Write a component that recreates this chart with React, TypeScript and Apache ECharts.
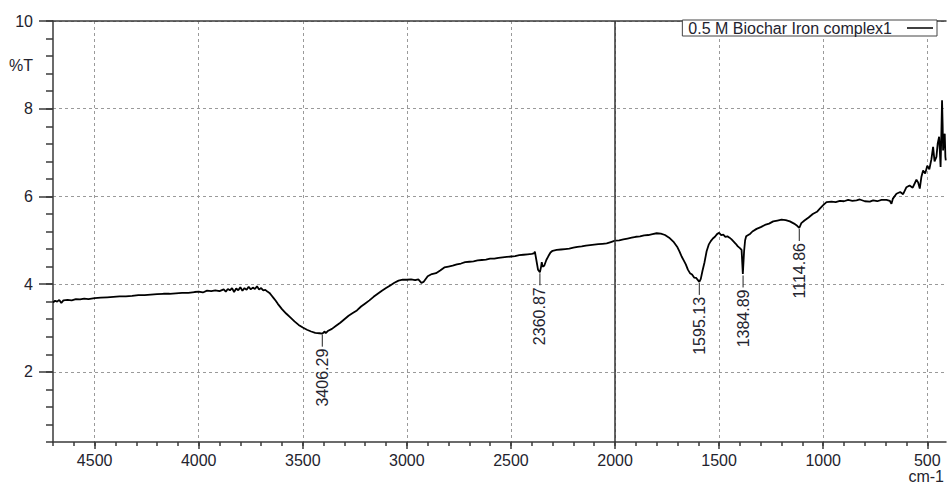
import React, { useEffect, useRef } from 'react';
import * as echarts from 'echarts';

const seriesName = '0.5 M Biochar Iron complex1';

const wavenumbers = [
  4700, 4690, 4680, 4670, 4660, 4650, 4630, 4610, 4590, 4570, 4550, 4530, 4500, 4470, 4440, 4410,
  4380, 4350, 4320, 4290, 4260, 4230, 4200, 4170, 4140, 4110, 4080, 4050, 4020, 4000, 3980, 3960,
  3940, 3920, 3900, 3880, 3870, 3860, 3850, 3840, 3830, 3820, 3810, 3800, 3790, 3780, 3770, 3760,
  3750, 3740, 3730, 3720, 3710, 3700, 3690, 3680, 3670, 3660, 3650, 3640, 3630, 3620, 3600, 3580,
  3560, 3540, 3520, 3500, 3480, 3460, 3440, 3420, 3406, 3395, 3390, 3380, 3360, 3340, 3320, 3300,
  3280, 3260, 3240, 3220, 3200, 3180, 3160, 3140, 3120, 3100, 3080, 3060, 3040, 3020, 3000, 2980,
  2960, 2945, 2930, 2920, 2900, 2880, 2860, 2840, 2820, 2800, 2780, 2760, 2740, 2720, 2700, 2680,
  2660, 2640, 2620, 2600, 2580, 2560, 2540, 2520, 2500, 2480, 2460, 2440, 2420, 2400, 2390, 2385,
  2378, 2370, 2361, 2355, 2352, 2348, 2340, 2330, 2320, 2310, 2300, 2280, 2260, 2240, 2220, 2200,
  2180, 2160, 2140, 2120, 2100, 2080, 2060, 2040, 2020, 2000, 1980, 1960, 1940, 1920, 1900, 1880,
  1860, 1840, 1820, 1800, 1780, 1760, 1740, 1720, 1700, 1690, 1680, 1670, 1660, 1650, 1640, 1630,
  1620, 1610, 1600, 1595, 1588, 1580, 1570, 1560, 1550, 1540, 1530, 1520, 1510, 1500, 1490, 1480,
  1470, 1460, 1450, 1440, 1430, 1420, 1410, 1400, 1392, 1386, 1384, 1380, 1375, 1370, 1360, 1350,
  1340, 1320, 1300, 1280, 1260, 1240, 1220, 1200, 1180, 1160, 1140, 1125, 1115, 1105, 1090, 1070,
  1050, 1030, 1016, 1000, 984, 960, 940, 920, 900, 880, 860, 840, 824, 800, 776, 760,
  740, 720, 696, 680, 672, 665, 648, 630, 616, 600, 585, 570, 552, 544, 536, 528,
  520, 510, 500, 490, 480, 472, 465, 456, 450, 443, 436, 432, 429, 426, 424, 420,
  416, 413, 411,
];

const transmittance = [
  3.58, 3.62, 3.60, 3.64, 3.57, 3.63, 3.64, 3.63, 3.66, 3.65, 3.67, 3.66, 3.68, 3.69, 3.70, 3.71,
  3.72, 3.72, 3.73, 3.75, 3.75, 3.76, 3.77, 3.78, 3.78, 3.79, 3.80, 3.80, 3.82, 3.83, 3.81, 3.85,
  3.84, 3.86, 3.84, 3.88, 3.83, 3.89, 3.86, 3.91, 3.82, 3.90, 3.86, 3.93, 3.85, 3.91, 3.87, 3.94,
  3.88, 3.92, 3.89, 3.95, 3.88, 3.91, 3.86, 3.87, 3.83, 3.80, 3.74, 3.68, 3.62, 3.55, 3.43, 3.33,
  3.24, 3.15, 3.07, 3.01, 2.96, 2.92, 2.89, 2.88, 2.87, 2.92, 2.88, 2.93, 2.98, 3.05, 3.12, 3.20,
  3.28, 3.34, 3.40, 3.49, 3.56, 3.63, 3.71, 3.78, 3.85, 3.91, 3.97, 4.03, 4.08, 4.10, 4.10, 4.11,
  4.09, 4.11, 4.03, 4.05, 4.18, 4.23, 4.25, 4.31, 4.38, 4.40, 4.42, 4.45, 4.47, 4.50, 4.51, 4.52,
  4.54, 4.55, 4.56, 4.58, 4.58, 4.60, 4.61, 4.62, 4.63, 4.64, 4.66, 4.67, 4.68, 4.69, 4.70, 4.74,
  4.55, 4.33, 4.27, 4.40, 4.50, 4.40, 4.42, 4.55, 4.64, 4.72, 4.76, 4.78, 4.79, 4.80, 4.81, 4.83,
  4.85, 4.86, 4.88, 4.89, 4.90, 4.91, 4.92, 4.93, 4.96, 4.99, 5.00, 5.02, 5.04, 5.06, 5.08, 5.09,
  5.11, 5.12, 5.14, 5.16, 5.15, 5.12, 5.06, 4.97, 4.84, 4.74, 4.63, 4.54, 4.45, 4.33, 4.25, 4.22,
  4.15, 4.14, 4.08, 4.05, 4.12, 4.30, 4.50, 4.75, 4.90, 4.98, 5.04, 5.08, 5.14, 5.17, 5.12, 5.13,
  5.08, 5.09, 5.06, 5.02, 4.97, 4.92, 4.86, 4.82, 4.78, 4.23, 4.22, 4.75, 5.00, 5.09, 5.12, 5.15,
  5.20, 5.26, 5.30, 5.35, 5.38, 5.43, 5.45, 5.47, 5.46, 5.43, 5.38, 5.33, 5.28, 5.39, 5.45, 5.52,
  5.60, 5.65, 5.72, 5.80, 5.87, 5.88, 5.87, 5.90, 5.89, 5.92, 5.90, 5.91, 5.93, 5.89, 5.88, 5.91,
  5.89, 5.92, 5.92, 5.90, 5.83, 5.95, 6.06, 6.10, 6.05, 6.21, 6.25, 6.20, 6.38, 6.32, 6.18, 6.45,
  6.59, 6.52, 6.70, 6.62, 6.85, 7.13, 6.80, 6.90, 7.20, 7.36, 6.67, 7.50, 8.19, 7.60, 7.05, 7.30,
  7.43, 6.90, 6.82,
];

const peakPositions = [3406.29, 2360.87, 1595.13, 1384.89, 1114.86];
const peakValues = [2.87, 4.27, 4.05, 4.22, 5.28];

const yLabelValues = [2, 4, 6, 8, 10];
const yMinorTickValues = [
  0.4, 0.8, 1.2, 1.6, 2, 2.4, 2.8, 3.2, 3.6, 4, 4.4, 4.8, 5.2, 5.6, 6, 6.4, 6.8, 7.2, 7.6, 8,
  8.4, 8.8, 9.2, 9.6, 10,
];
const xLabelValues = [500, 1000, 1500, 2000, 2500, 3000, 3500, 4000, 4500];
const xMinorTickValues = [
  500, 600, 700, 800, 900, 1000, 1100, 1200, 1300, 1400, 1500, 1600, 1700, 1800, 1900, 2000,
  2100, 2200, 2300, 2400, 2500, 2600, 2700, 2800, 2900, 3000, 3100, 3200, 3300, 3400, 3500,
  3600, 3700, 3800, 3900, 4000, 4100, 4200, 4300, 4400, 4500, 4600, 4700,
];

const X_MIN = 410;
const X_MAX = 4700;
const Y_MIN = 0.4;
const Y_MAX = 10;

const FONT = "'Liberation Sans', Arial, sans-serif";
const FONT_SIZE = 16;
const TEXT_COLOR = '#23232e';
const AXIS_COLOR = '#3a3a3a';

export default function App() {
  const ref = useRef<HTMLDivElement>(null);

  useEffect(() => {
    if (!ref.current) return;
    const chart = echarts.init(ref.current, undefined, { renderer: 'svg' });

    const lineData = wavenumbers.map((w, i) => [w, transmittance[i]]);
    const peakData = peakPositions.map((p, i) => [p, peakValues[i]]);

    const gridLine = { show: true, lineStyle: { color: '#9a9a9a', type: [3, 3] as any, width: 1 } };

    chart.setOption({
      animation: false,
      backgroundColor: '#fff',
      textStyle: { fontFamily: FONT },
      grid: { left: 53, right: 1, top: 21, bottom: 44, containLabel: false },
      legend: {
        data: [{ name: seriesName, icon: 'rect' }],
        right: 10,
        top: 20,
        align: 'right',
        itemWidth: 26,
        itemHeight: 1.5,
        padding: [0, 4, 0, 6],
        borderColor: '#444',
        borderWidth: 1,
        backgroundColor: '#fff',
        textStyle: { fontSize: FONT_SIZE, color: TEXT_COLOR, fontFamily: FONT, padding: [0, 10, 0, 0] },
        selectedMode: false,
      },
      xAxis: [
        {
          type: 'value',
          position: 'bottom',
          inverse: true,
          min: X_MIN,
          max: X_MAX,
          axisLine: { show: true, lineStyle: { color: AXIS_COLOR, width: 1.5 } },
          axisTick: { show: true, length: 4, customValues: xMinorTickValues, lineStyle: { color: AXIS_COLOR, width: 1.5 } },
          axisLabel: { show: false },
          splitLine: { show: false },
        },
        {
          type: 'value',
          position: 'bottom',
          inverse: true,
          min: X_MIN,
          max: X_MAX,
          axisLine: { show: false },
          axisTick: { show: true, length: 7, customValues: xLabelValues, lineStyle: { color: AXIS_COLOR, width: 1.5 } },
          axisLabel: {
            show: true,
            customValues: xLabelValues,
            formatter: (v: number) => String(v),
            margin: 10,
            fontSize: FONT_SIZE,
            color: TEXT_COLOR,
            fontFamily: FONT,
          },
          splitLine: gridLine,
        },
        {
          type: 'value',
          position: 'top',
          inverse: true,
          min: X_MIN,
          max: X_MAX,
          axisLine: { show: true, lineStyle: { color: AXIS_COLOR, width: 1.5 } },
          axisTick: { show: false },
          axisLabel: { show: false },
          splitLine: { show: false },
        },
      ],
      yAxis: [
        {
          type: 'value',
          position: 'left',
          min: Y_MIN,
          max: Y_MAX,
          axisLine: { show: true, lineStyle: { color: AXIS_COLOR, width: 1.5 } },
          axisTick: { show: true, length: 7, customValues: yMinorTickValues, lineStyle: { color: AXIS_COLOR, width: 1.5 } },
          axisLabel: { show: false },
          splitLine: { show: false },
        },
        {
          type: 'value',
          position: 'left',
          min: Y_MIN,
          max: Y_MAX,
          axisLine: { show: false },
          axisTick: { show: true, length: 14, customValues: yLabelValues, lineStyle: { color: AXIS_COLOR, width: 1.5 } },
          axisLabel: {
            show: true,
            customValues: yLabelValues,
            formatter: (v: number) => String(v),
            margin: 20,
            fontSize: FONT_SIZE,
            color: TEXT_COLOR,
            fontFamily: FONT,
          },
          splitLine: gridLine,
        },
      ],
      graphic: [
        {
          type: 'text',
          x: 33,
          y: 65,
          style: { text: '%T', align: 'right', verticalAlign: 'middle', fontSize: FONT_SIZE, fill: TEXT_COLOR, fontFamily: FONT },
        },
        {
          type: 'text',
          x: 944,
          y: 476,
          style: { text: 'cm-1', align: 'right', verticalAlign: 'middle', fontSize: FONT_SIZE, fill: TEXT_COLOR, fontFamily: FONT },
        },
      ],
      series: [
        {
          name: seriesName,
          type: 'line',
          xAxisIndex: 0,
          yAxisIndex: 0,
          data: lineData,
          showSymbol: false,
          symbol: 'none',
          itemStyle: { color: '#000' },
          lineStyle: { color: '#000', width: 1.8 },
          z: 4,
          markLine: {
            silent: true,
            symbol: 'none',
            label: { show: false },
            lineStyle: { color: '#333', type: 'solid', width: 1.5 },
            data: [{ xAxis: 2000 }],
          },
        },
        {
          name: 'peaks',
          type: 'custom',
          xAxisIndex: 0,
          yAxisIndex: 0,
          silent: true,
          z: 5,
          data: peakData,
          renderItem: (params: any, api: any) => {
            const pt = api.coord([api.value(0), api.value(1)]);
            const label = peakPositions[params.dataIndex].toFixed(2);
            return {
              type: 'group',
              children: [
                {
                  type: 'line',
                  shape: { x1: pt[0], y1: pt[1] + 1, x2: pt[0], y2: pt[1] + 13 },
                  style: { stroke: '#222', lineWidth: 1 },
                },
                {
                  type: 'text',
                  x: pt[0],
                  y: pt[1] + 15,
                  rotation: Math.PI / 2,
                  style: {
                    text: label,
                    align: 'right',
                    verticalAlign: 'middle',
                    fontSize: FONT_SIZE,
                    fill: TEXT_COLOR,
                    fontFamily: FONT,
                  },
                },
              ],
            };
          },
        },
      ],
    });

    return () => chart.dispose();
  }, []);

  return (
    <div
      ref={ref}
      style={{ position: 'fixed', left: 0, top: 0, width: 947, height: 486, background: '#fff' }}
    />
  );
}
